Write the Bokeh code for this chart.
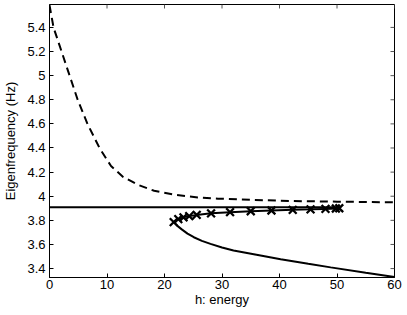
import math
from bokeh.plotting import figure
from bokeh.models import FixedTicker, CustomJSTickFormatter, Range1d
from bokeh.embed import file_html
from bokeh.resources import INLINE

# ---- data ----
x_lo, x_hi = 0, 60
y_lo, y_hi = 3.326, 5.59
x_ticks = [0, 10, 20, 30, 40, 50, 60]
y_ticks = [3.4, 3.6, 3.8, 4.0, 4.2, 4.4, 4.6, 4.8, 5.0, 5.2, 5.4]

# dashed branch
dashed_h = [0, 0.7, 2.1, 3.5, 4.9, 6.6, 8.7, 10.7, 12.8, 15.4, 18.2, 21.7,
            25.8, 29.3, 35, 40, 45, 50, 55, 60]
dashed_y = [5.585, 5.40, 5.20, 5.00, 4.80, 4.60, 4.40, 4.25, 4.16, 4.094,
            4.045, 4.012, 3.99, 3.98, 3.97, 3.963, 3.958, 3.955, 3.952, 3.95]

# flat solid branch
flat_h = [0, 50.6]
flat_y = [3.909, 3.909]

# folded solid branch (upper part from its end to the fold, then the lower part)
fold_h = [50.4, 49.8, 48.0, 45.4, 42.3, 38.6, 35.0, 31.4, 28.1, 25.6, 24.3,
          23.3, 22.4, 21.6, 22.3, 23.0, 24.0, 25.1, 26.5, 28.0, 30.0, 32.0,
          36.0, 40.2, 45.0, 48.9, 55.0, 60.0]
fold_y = [3.900, 3.898, 3.895, 3.891, 3.887, 3.882, 3.876, 3.868, 3.858,
          3.845, 3.835, 3.825, 3.81, 3.785, 3.752, 3.725, 3.69, 3.66, 3.63,
          3.605, 3.575, 3.55, 3.515, 3.478, 3.44, 3.41, 3.365, 3.33]

# x markers on the upper part of the fold
mark_h = [21.6, 22.4, 23.3, 24.3, 25.6, 28.1, 31.4, 35.0, 38.6, 42.3, 45.4,
          48.0, 49.8, 50.4]
mark_y = [3.785, 3.81, 3.825, 3.835, 3.845, 3.858, 3.868, 3.876, 3.882,
          3.887, 3.891, 3.895, 3.898, 3.900]

FONT = "Liberation Sans"

p = figure(width=407, height=315, x_range=Range1d(x_lo, x_hi),
           y_range=Range1d(y_lo, y_hi), output_backend="svg",
           toolbar_location=None, min_border_left=48, min_border_right=13,
           min_border_top=4, min_border_bottom=38)
p.grid.visible = False
p.outline_line_color = "black"
p.background_fill_color = "white"
p.border_fill_color = "white"

fmt = CustomJSTickFormatter(code="return String(Math.round(tick*10)/10);")

p.xaxis.axis_label = "h: energy"
p.yaxis.axis_label = "Eigenfrequency (Hz)"
p.xaxis.ticker = FixedTicker(ticks=x_ticks)
p.yaxis.ticker = FixedTicker(ticks=y_ticks)
for ax in (p.xaxis[0], p.yaxis[0]):
    ax.formatter = fmt
    ax.major_tick_in = 4
    ax.major_tick_out = 0
    ax.minor_tick_in = 0
    ax.minor_tick_out = 0
    ax.major_label_text_font = FONT
    ax.major_label_text_font_size = "13px"
    ax.major_label_text_color = "black"
    ax.axis_label_text_font = FONT
    ax.axis_label_text_font_size = "13px"
    ax.axis_label_text_font_style = "normal"
    ax.axis_label_text_color = "black"
    ax.axis_line_color = "black"
    ax.major_tick_line_color = "black"
p.xaxis.major_label_standoff = 2
p.xaxis.axis_label_standoff = 0
p.yaxis.major_label_standoff = 4
p.yaxis.axis_label_standoff = 6

# inward ticks on the top and right edges of the box
p.ray(x=x_ticks, y=[y_hi] * len(x_ticks), length=4, length_units="screen",
      angle=-math.pi / 2, line_color="#555555", line_width=1)
p.ray(x=[x_hi] * len(y_ticks), y=y_ticks, length=4, length_units="screen",
      angle=math.pi, line_color="#555555", line_width=1)

p.line(dashed_h, dashed_y, line_color="black", line_width=2, line_dash="8 5")
p.line(flat_h, flat_y, line_color="black", line_width=2)
p.line(fold_h, fold_y, line_color="black", line_width=2)
p.scatter(mark_h, mark_y, marker="x", size=11, line_color="black", line_width=2.3)

open("out.html", "w").write(file_html(p, INLINE))
